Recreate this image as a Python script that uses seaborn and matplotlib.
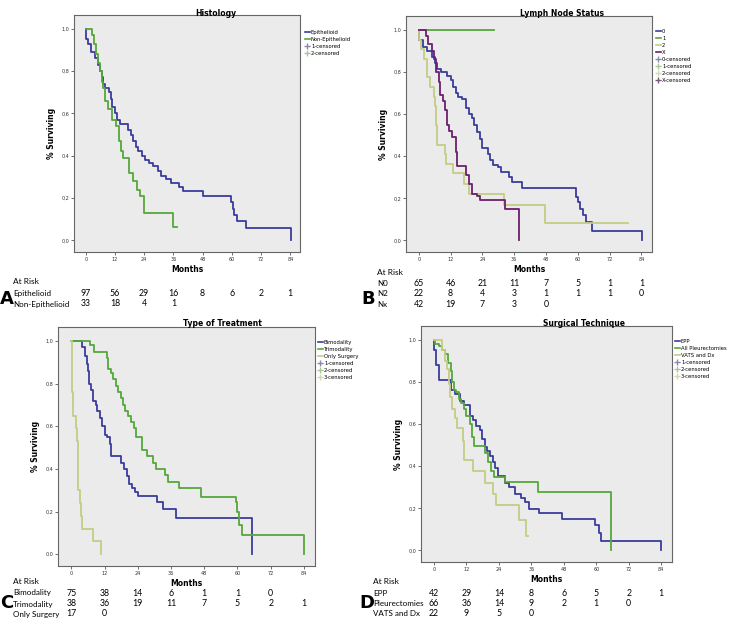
import matplotlib
matplotlib.use("Agg")
import matplotlib.pyplot as plt
import matplotlib.transforms as mtransforms
from matplotlib.lines import Line2D
import seaborn as sns
import pandas as pd

# ---- data (time in months, survival fraction) ----
# A: Histology
epi_t = [0, 0.2, 0.8, 2.3, 3.7, 5, 6, 6.5, 7.2, 8, 9.5, 10.5, 11, 12, 13, 14, 17.5, 18.5, 19.5, 20.5,
         21.5, 23, 24.5, 26, 27.5, 29.5, 31, 33, 35, 38.5, 40, 48, 59.5, 60.3, 61, 62, 66, 84.5]
epi_s = [1.0, 0.95, 0.93, 0.89, 0.86, 0.83, 0.80, 0.77, 0.74, 0.72, 0.70, 0.67, 0.63, 0.60, 0.57, 0.55,
         0.52, 0.50, 0.47, 0.44, 0.42, 0.40, 0.38, 0.365, 0.35, 0.33, 0.305, 0.29, 0.27, 0.254, 0.235,
         0.21, 0.18, 0.15, 0.12, 0.09, 0.06, 0.0]
nonepi_t = [0, 2.6, 3.3, 4.2, 5, 5.8, 6.5, 7.2, 8, 9, 11, 12.5, 13.8, 14.5, 15.5, 17.8, 19.5, 21, 22.3,
            23.8, 35.8, 37.5]
nonepi_s = [1.0, 0.97, 0.93, 0.88, 0.84, 0.80, 0.75, 0.72, 0.66, 0.62, 0.57, 0.54, 0.47, 0.42, 0.39,
            0.32, 0.28, 0.24, 0.21, 0.13, 0.065, 0.065]

# B: Lymph node status
n0_t = [0, 0.1, 1.5, 3, 5, 6, 7, 8.5, 10.5, 12, 13, 14, 15, 16.5, 18, 19, 20, 21, 22, 23, 24, 26, 27,
        28, 30, 31, 34, 35, 39, 59.5, 60, 61, 62, 63, 65.5, 84.3]
n0_s = [1.0, 0.95, 0.92, 0.90, 0.87, 0.84, 0.815, 0.80, 0.78, 0.76, 0.73, 0.70, 0.68, 0.67, 0.63, 0.60,
        0.58, 0.55, 0.515, 0.48, 0.44, 0.41, 0.38, 0.36, 0.35, 0.325, 0.30, 0.277, 0.248, 0.206, 0.18,
        0.15, 0.12, 0.087, 0.043, 0.0]
n1_t = [0, 28.5]
n1_s = [1.0, 1.0]
n2_t = [0, 0.1, 1, 1.9, 3.1, 4.4, 5.7, 6.2, 6.5, 7, 9.8, 10.3, 12.8, 17, 18.9, 32, 47.5, 79]
n2_s = [1.0, 0.95, 0.91, 0.86, 0.775, 0.73, 0.68, 0.64, 0.55, 0.455, 0.41, 0.365, 0.32, 0.27, 0.22,
        0.166, 0.082, 0.082]
nx_t = [0, 2.8, 3.5, 5, 5.8, 6.5, 7.5, 8, 9, 10, 10.6, 11.5, 12.7, 14, 14.5, 18, 19, 20, 22, 23, 32.5, 38]
nx_s = [1.0, 0.97, 0.93, 0.90, 0.86, 0.80, 0.75, 0.69, 0.66, 0.62, 0.55, 0.52, 0.49, 0.42, 0.353, 0.31,
        0.27, 0.22, 0.21, 0.19, 0.15, 0.0]

# C: Type of treatment
bim_t = [0, 4, 5, 5.5, 6, 6.5, 7, 7.8, 8.8, 9.2, 10.2, 11, 12, 13, 14, 14.5, 18, 19, 20, 21, 22, 23, 24,
         31, 33, 37.8, 65.2]
bim_s = [1.0, 0.97, 0.93, 0.89, 0.857, 0.80, 0.77, 0.72, 0.70, 0.67, 0.64, 0.60, 0.56, 0.55, 0.515, 0.46,
         0.43, 0.40, 0.368, 0.33, 0.31, 0.29, 0.275, 0.244, 0.213, 0.17, 0.0]
tri_t = [0, 6.6, 8.2, 12.8, 13.3, 14.2, 15, 16, 17, 18, 18.8, 19.5, 20.5, 21.5, 22.5, 23.5, 25.5, 27.5,
         29.5, 30.5, 34, 35, 39, 47, 59.5, 60, 60.5, 61.5, 84]
tri_s = [1.0, 0.98, 0.95, 0.92, 0.87, 0.85, 0.82, 0.79, 0.76, 0.73, 0.70, 0.67, 0.65, 0.62, 0.59, 0.55,
         0.49, 0.46, 0.43, 0.40, 0.37, 0.34, 0.31, 0.27, 0.244, 0.20, 0.135, 0.089, 0.0]
surg_t = [0, 0.2, 0.4, 0.6, 1.6, 2, 2.3, 2.6, 3, 3.4, 3.8, 8, 10.8]
surg_s = [1.0, 0.88, 0.76, 0.65, 0.59, 0.53, 0.41, 0.30, 0.24, 0.18, 0.12, 0.06, 0.0]

# D: Surgical technique
epp_t = [0, 0.1, 0.6, 2, 6.3, 7.8, 9.7, 11, 13.5, 14.5, 15.5, 17, 17.8, 18.8, 19.7, 20.8, 21.8, 22.7,
         23.7, 26.3, 27.6, 30, 32, 33.5, 35, 38.9, 47.2, 59.5, 61, 61.7, 84]
epp_s = [1.0, 0.95, 0.88, 0.81, 0.76, 0.74, 0.71, 0.69, 0.64, 0.62, 0.59, 0.57, 0.53, 0.49, 0.47, 0.45,
         0.42, 0.39, 0.353, 0.32, 0.30, 0.27, 0.25, 0.23, 0.198, 0.177, 0.149, 0.12, 0.082, 0.047, 0.0]
pleu_t = [0, 0.5, 2, 3, 4, 5, 6.3, 6.8, 7.3, 8, 9.2, 10, 11, 12, 13.2, 14, 14.8, 18.8, 20, 21.2, 22.2,
          26.3, 38.4, 65.4]
pleu_s = [1.0, 0.98, 0.97, 0.95, 0.93, 0.89, 0.85, 0.80, 0.76, 0.75, 0.72, 0.70, 0.67, 0.64, 0.60, 0.54,
          0.494, 0.46, 0.42, 0.377, 0.35, 0.324, 0.277, 0.0]
vats_t = [0, 2.8, 4.2, 4.8, 5.4, 6, 6.8, 7.7, 8.6, 10.6, 11.1, 14.5, 19, 21.8, 23, 31.3, 34, 34.6]
vats_s = [1.0, 0.95, 0.90, 0.86, 0.79, 0.73, 0.67, 0.63, 0.58, 0.52, 0.43, 0.377, 0.32, 0.27, 0.214,
          0.142, 0.068, 0.068]

# at-risk tables (columns at months 0, 12, ..., 84)
risk_months = [0, 12, 24, 36, 48, 60, 72, 84]
risk_a = {"Epithelioid": [97, 56, 29, 16, 8, 6, 2, 1], "Non-Epithelioid": [33, 18, 4, 1]}
risk_b = {"N0": [65, 46, 21, 11, 7, 5, 1, 1], "N2": [22, 8, 4, 3, 1, 1, 1, 0], "Nx": [42, 19, 7, 3, 0]}
risk_c = {"Bimodality": [75, 38, 14, 6, 1, 1, 0], "Trimodality": [38, 36, 19, 11, 7, 5, 2, 1],
          "Only Surgery": [17, 0]}
risk_d = {"EPP": [42, 29, 14, 8, 6, 5, 2, 1], "Pleurectomies": [66, 36, 14, 9, 2, 1, 0],
          "VATS and Dx": [22, 9, 5, 0]}

BLUE = "#3a3c9c"
GREEN = "#55a83a"
KHAKI = "#c5cc84"
PURPLE = "#6b1f6e"

W, H = 730, 619
fig = plt.figure(figsize=(W / 100, H / 100), dpi=100)
fig.patch.set_facecolor("white")


def rect(l, t, r, b):
    return [l / W, 1 - b / H, (r - l) / W, (b - t) / H]


def panel(box, title, title_xy, curves, legend_xy, censored, risk, risk_x, risk_ys, letter_xy, letter):
    ax = fig.add_axes(rect(*box))
    ax.set_facecolor("#ebebeb")
    for t, s, col, lab in curves:
        d = pd.DataFrame({"t": t, "s": s})
        sns.lineplot(data=d, x="t", y="s", ax=ax, color=col, lw=1.3, estimator=None,
                     sort=False, drawstyle="steps-post", label=lab, legend=False)
    ax.set_xlim(-4.8, 88)
    ax.set_ylim(-0.055, 1.065)
    ax.set_xticks(risk_months)
    ax.set_yticks([0, 0.2, 0.4, 0.6, 0.8, 1.0])
    ax.set_yticklabels(["0,0", "0,2", "0,4", "0,6", "0,8", "1,0"])
    ax.tick_params(labelsize=3.5, length=2, width=0.5, colors="#333333", pad=1.5)
    for sp in ax.spines.values():
        sp.set_color("#666666")
        sp.set_linewidth(0.8)
    ax.set_xlabel("Months", fontsize=5.5, fontweight="bold", labelpad=2.5)
    ax.set_ylabel("% Surviving", fontsize=5.5, fontweight="bold", labelpad=4)
    fig.text(title_xy[0] / W, 1 - title_xy[1] / H, title, fontsize=5.5, fontweight="bold",
             ha="center", va="center")
    handles = [Line2D([], [], color=c, lw=1.2) for _, _, c, _ in curves]
    labels = [lab for *_, lab in curves]
    for lab, c in censored:
        handles.append(Line2D([], [], color=c, marker="+", ms=4, lw=0.4))
        labels.append(lab)
    ax.legend(handles, labels, loc="upper left", bbox_to_anchor=(legend_xy[0] / W, 1 - legend_xy[1] / H),
              bbox_transform=fig.transFigure, frameon=False, fontsize=3.8, borderpad=0,
              handlelength=1.0, handletextpad=0.2, labelspacing=0.38)
    # at-risk table
    tr = mtransforms.blended_transform_factory(ax.transData, fig.transFigure)
    fig.text(risk_x / W, 1 - risk_ys[0] / H, "At Risk", fontsize=6, family="Lato", va="center")
    for (name, vals), y in zip(risk.items(), risk_ys[1:]):
        fig.text(risk_x / W, 1 - y / H, name, fontsize=5.8, family="Lato", va="center")
        for m, v in zip(risk_months, vals):
            ax.text(m, 1 - y / H, str(v), transform=tr, fontsize=6.3, family="Lato",
                    ha="center", va="center")
    fig.text(letter_xy[0] / W, 1 - letter_xy[1] / H, letter, fontsize=13, fontweight="bold",
             va="center", ha="left")
    return ax


panel((74, 15, 300, 252), "Histology", (216, 14),
      [(epi_t, epi_s, BLUE, "Epithelioid"), (nonepi_t, nonepi_s, GREEN, "Non-Epithelioid")],
      (302, 27), [("1-censored", "#8a8aa8"), ("2-censored", "#a9c99a")],
      risk_a, 13, [282, 293, 304], (0, 299), "A")

panel((406, 16, 652, 252), "Lymph Node Status", (562, 13),
      [(n0_t, n0_s, BLUE, "0"), (n1_t, n1_s, GREEN, "1"), (n2_t, n2_s, KHAKI, "2"),
       (nx_t, nx_s, PURPLE, "X")],
      (653, 26), [("0-censored", "#8a8aa8"), ("1-censored", "#a9c99a"), ("2-censored", "#d5d9b0"),
                  ("X-censored", "#7a5a7c")],
      risk_b, 377, [272, 283, 294, 305], (361, 299), "B")

panel((58, 327, 315, 566), "Type of Treatment", (222, 323),
      [(bim_t, bim_s, BLUE, "Bimodality"), (tri_t, tri_s, GREEN, "Trimodality"),
       (surg_t, surg_s, KHAKI, "Only Surgery")],
      (315, 337), [("1-censored", "#8a8aa8"), ("2-censored", "#a9c99a"), ("3-censored", "#d5d9b0")],
      risk_c, 13, [582, 593, 604, 614], (0, 603), "C")

panel((421, 326, 672, 562), "Surgical Technique", (584, 323),
      [(epp_t, epp_s, BLUE, "EPP"), (pleu_t, pleu_s, GREEN, "All Pleurectomies"),
       (vats_t, vats_s, KHAKI, "VATS and Dx")],
      (672, 336), [("1-censored", "#8a8aa8"), ("2-censored", "#a9c99a"), ("3-censored", "#d5d9b0")],
      risk_d, 373, [582, 593, 604, 614], (359, 603), "D")

fig.savefig("out.png", dpi=100, facecolor="white")
